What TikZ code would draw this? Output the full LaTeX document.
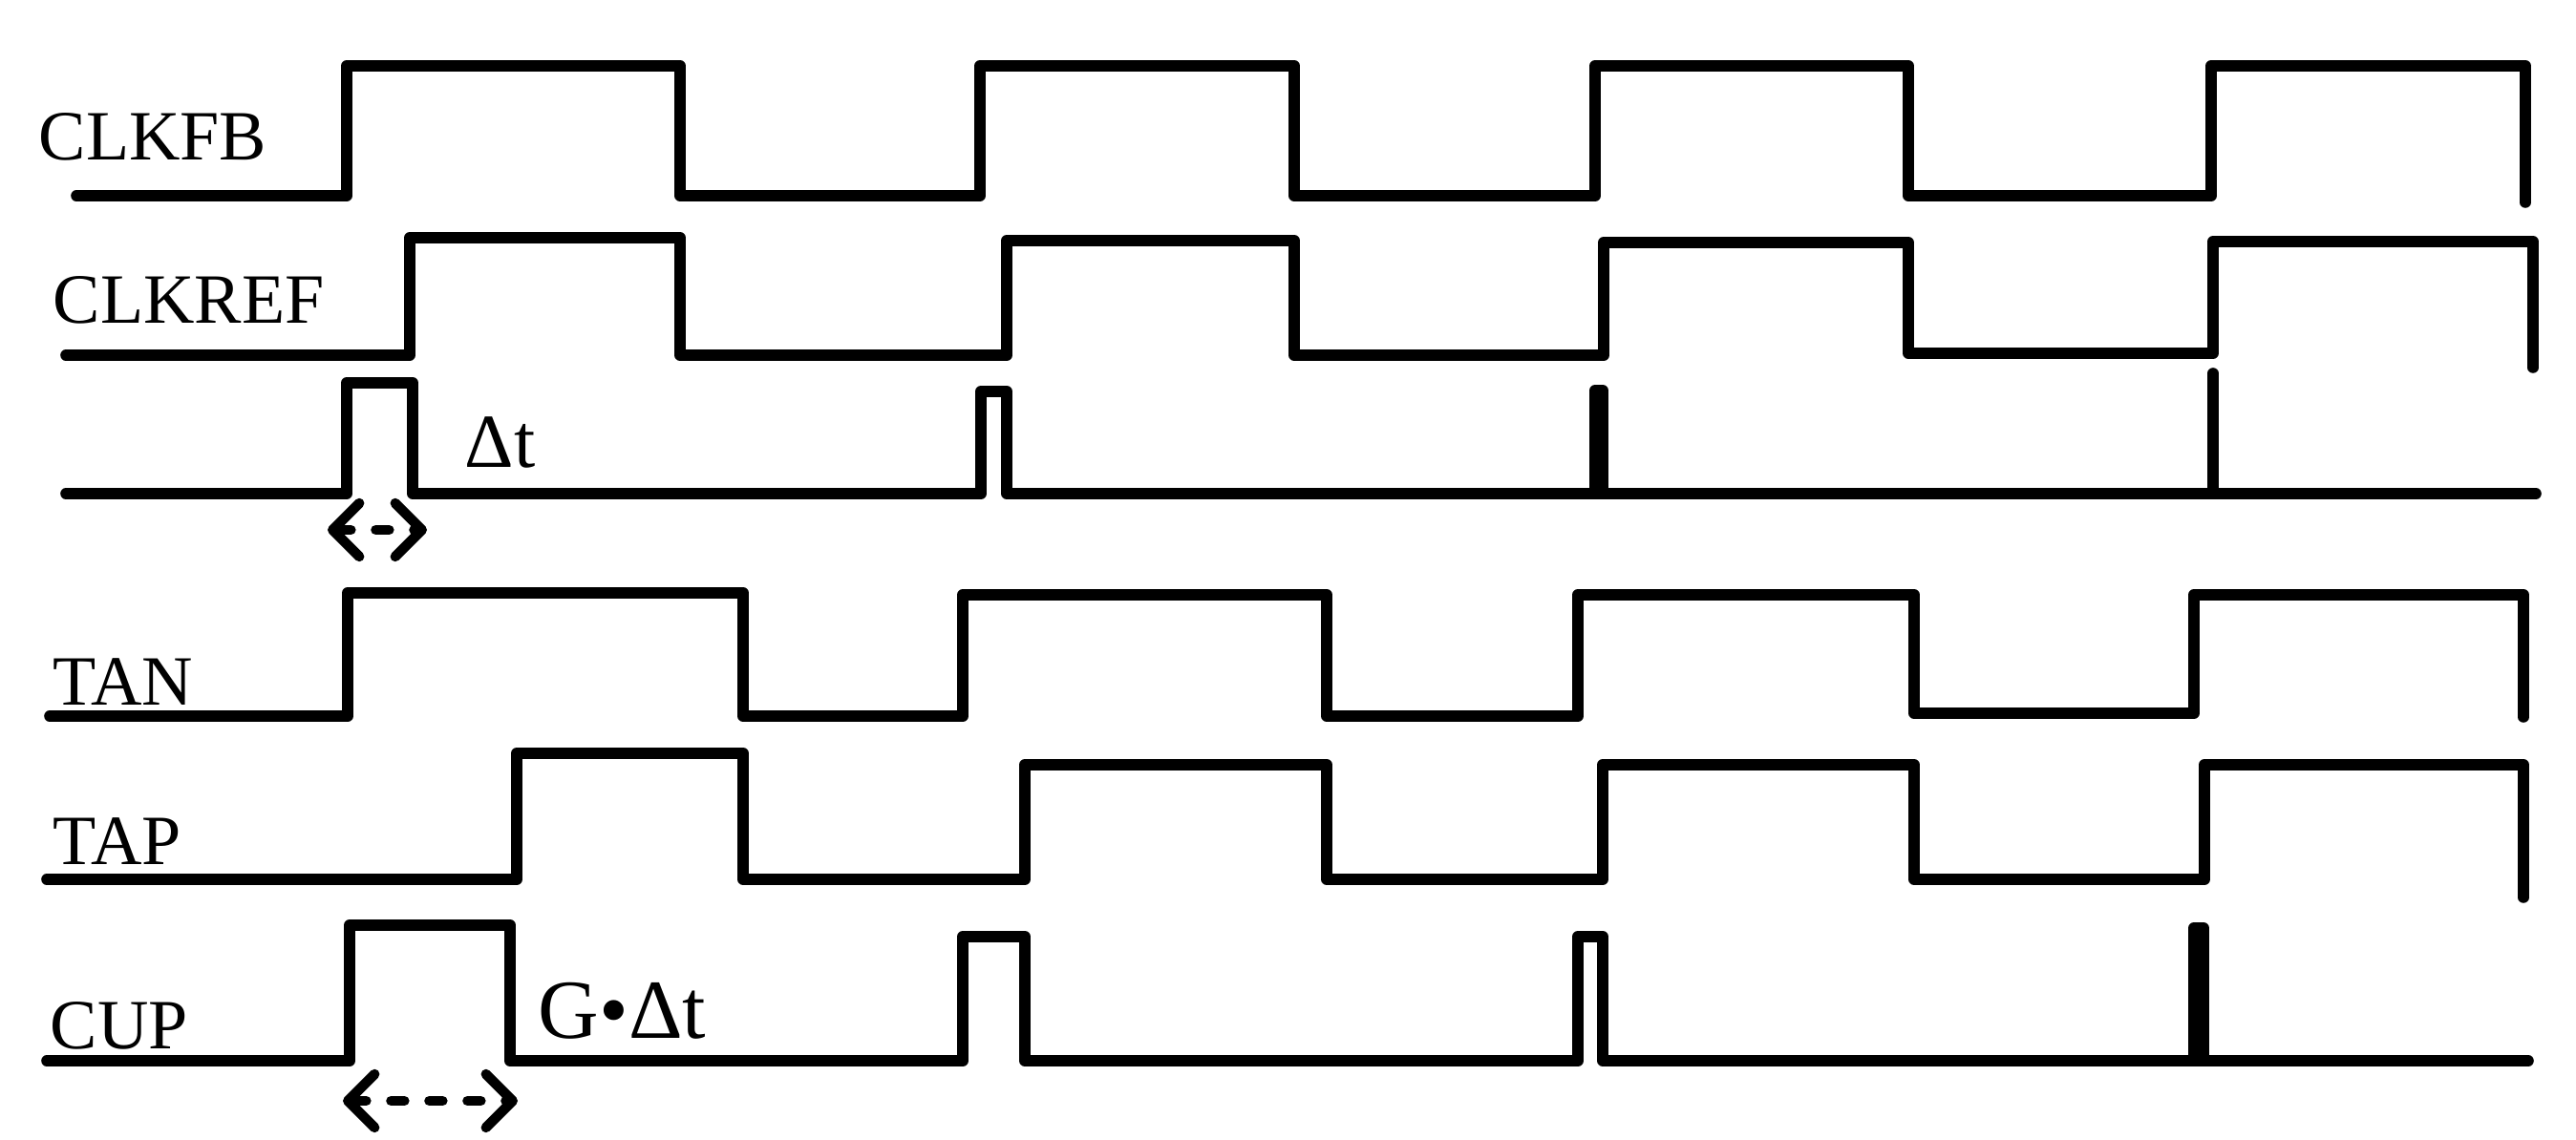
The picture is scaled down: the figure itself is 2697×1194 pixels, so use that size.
\documentclass[tikz,border=0pt]{standalone}
\usepackage{fontspec}
\setmainfont{Liberation Serif}
\usetikzlibrary{arrows.meta}
\begin{document}
\begin{tikzpicture}[x=0.25pt,y=-0.25pt,
  wave/.style={line width=2.9pt, line cap=round, line join=round},
  sig/.style={font=\fontsize{18.5}{20}\selectfont, anchor=base west, inner sep=0pt},
  ann/.style={anchor=base west, inner sep=0pt},
  dimarrow/.style={line width=2.6pt, line cap=round, dash pattern=on 3.5pt off 6.5pt,
    {Straight Barb[length=7pt,width=14pt,round]}-{Straight Barb[length=7pt,width=14pt,round]}}]
\useasboundingbox (0,0) rectangle (2697,1194);

% labels
\node[sig] (lclkfb) at (40,168) {CLKFB};
\node[sig] (lclkref) at (55,339) {CLKREF};
\node[sig] (ltan) at (55,739) {TAN};
\node[sig] (ltap) at (55,906) {TAP};
\node[sig] (lcup) at (52,1099) {CUP};
\node[ann, font=\fontsize{20}{22}\selectfont] (ldt) at (486,490) {Δt};
\node[ann, font=\fontsize{22}{24}\selectfont] (lgdt) at (563,1088) {G•Δt};

% CLKFB
\draw[wave] (80,205) -- (363,205) -- (363,69) -- (712,69) -- (712,205) -- (1026,205) -- (1026,69)
  -- (1355,69) -- (1355,205) -- (1670,205) -- (1670,69) -- (1998,69) -- (1998,205) -- (2315,205)
  -- (2315,69) -- (2644,69) -- (2644,212);

% CLKREF
\draw[wave] (69,372) -- (429,372) -- (429,249) -- (712,249) -- (712,372) -- (1054,372) -- (1054,252)
  -- (1355,252) -- (1355,372) -- (1679,372) -- (1679,254) -- (1998,254) -- (1998,370) -- (2317,370)
  -- (2317,253) -- (2652,253) -- (2652,385);

% Delta t pulses
\draw[wave] (69,517) -- (363,517) -- (363,401) -- (432,401) -- (432,517) -- (1027,517) -- (1027,410)
  -- (1054,410) -- (1054,517) -- (2655,517);
\draw[wave] (1670,517) -- (1670,409) -- (1678,409) -- (1678,517);
\draw[wave] (2317,517) -- (2317,391);

% TAN
\draw[wave] (52,750) -- (364,750) -- (364,621) -- (778,621) -- (778,750) -- (1008,750) -- (1008,623)
  -- (1389,623) -- (1389,750) -- (1652,750) -- (1652,623) -- (2004,623) -- (2004,747) -- (2297,747)
  -- (2297,623) -- (2642,623) -- (2642,751);

% TAP
\draw[wave] (49,921) -- (541,921) -- (541,789) -- (778,789) -- (778,921) -- (1073,921) -- (1073,801)
  -- (1389,801) -- (1389,921) -- (1678,921) -- (1678,801) -- (2004,801) -- (2004,921) -- (2308,921)
  -- (2308,801) -- (2642,801) -- (2642,940);

% CUP
\draw[wave] (49,1111) -- (366,1111) -- (366,969) -- (534,969) -- (534,1111) -- (1008,1111) -- (1008,981)
  -- (1073,981) -- (1073,1111) -- (1652,1111) -- (1652,981) -- (1678,981) -- (1678,1111) -- (2647,1111);
\draw[wave] (2297,1111) -- (2297,972) -- (2307,972) -- (2307,1111);

% dimension arrows
\coordinate (dtA) at (343,555);
\coordinate (dtB) at (447,555);
\coordinate (gA) at (359,1153);
\coordinate (gB) at (542,1153);
\draw[dimarrow] (dtA) -- (dtB);
\draw[dimarrow] (gA) -- (gB);
\end{tikzpicture}
\end{document}
